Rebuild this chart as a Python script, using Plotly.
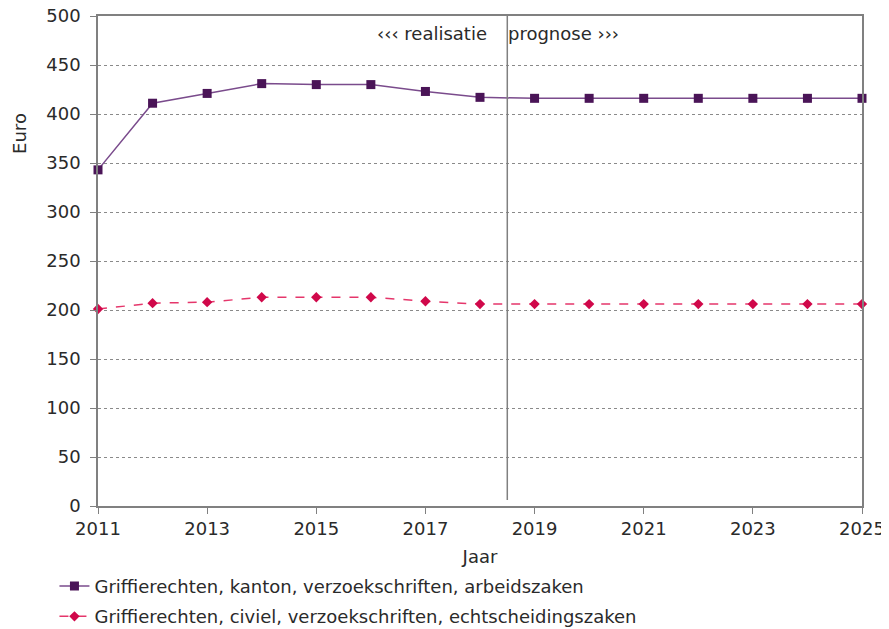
import plotly.graph_objects as go

years = list(range(2011, 2026))
kanton = [343, 411, 421, 431, 430, 430, 423, 417, 416, 416, 416, 416, 416, 416, 416]
civiel = [201, 207, 208, 213, 213, 213, 209, 206, 206, 206, 206, 206, 206, 206, 206]

name_kanton = "Griffierechten, kanton, verzoekschriften, arbeidszaken"
name_civiel = "Griffierechten, civiel, verzoekschriften, echtscheidingszaken"
split_year = 2018.5

font = "DejaVu Sans, Verdana, sans-serif"
text_color = "#2a2a2a"

fig = go.Figure()

fig.add_trace(
    go.Scatter(
        x=years,
        y=kanton,
        mode="lines+markers",
        name=name_kanton,
        legendgroup="kanton",
        cliponaxis=False,
        line=dict(color="#7a4b8c", width=1.5),
        marker=dict(symbol="square", size=9, color="#4a1457"),
    )
)

fig.add_trace(
    go.Scatter(
        x=years,
        y=civiel,
        mode="lines+markers",
        name=name_civiel,
        legendgroup="civiel",
        cliponaxis=False,
        line=dict(color="#e5366b", width=1.5, dash="dash"),
        marker=dict(symbol="diamond", size=8, color="#d0084a"),
    )
)

# split between realisation and forecast
fig.add_shape(
    type="line",
    x0=split_year, x1=split_year, y0=6, y1=500,
    xref="x", yref="y",
    line=dict(color="#808080", width=1.5),
)

fig.add_annotation(
    x=split_year, y=482, xref="x", yref="y",
    text="‹‹‹ realisatie", showarrow=False,
    xanchor="right", xshift=-18,
    font=dict(family=font, size=18, color=text_color),
)
fig.add_annotation(
    x=split_year, y=482, xref="x", yref="y",
    text="prognose ›››", showarrow=False,
    xanchor="left", xshift=-1,
    font=dict(family=font, size=18, color=text_color),
)

# y-axis title sits near the top, not centred
fig.add_annotation(
    x=-0.103, y=380, xref="paper", yref="y",
    xanchor="center", yanchor="middle",
    text="Euro", textangle=-90, showarrow=False,
    font=dict(family=font, size=18, color=text_color),
)

# the page body adds 8px around the figure, so the figure is sized to fit
fig.update_layout(
    width=881,
    height=621,
    margin=dict(l=90, r=27, t=8, b=123, autoexpand=False),
    plot_bgcolor="white",
    paper_bgcolor="white",
    font=dict(family=font, size=18, color=text_color),
    showlegend=True,
    legend=dict(
        x=-0.057, y=-0.126, xanchor="left", yanchor="top",
        font=dict(family=font, size=18, color=text_color),
        itemwidth=30, tracegroupgap=4,
    ),
    xaxis=dict(
        title=dict(text="Jaar", standoff=12, font=dict(size=18)),
        range=[2011, 2025],
        tickmode="array",
        tickvals=list(range(2011, 2026, 2)),
        ticks="outside", ticklen=6, tickcolor="#808080",
        ticklabeloverflow="allow",
        showgrid=False,
        showline=True, linecolor="#808080", linewidth=1.5,
        mirror=True,
        zeroline=False,
    ),
    yaxis=dict(
        range=[0, 500],
        dtick=50,
        ticks="outside", ticklen=6, tickcolor="#808080",
        ticklabelstandoff=6,
        ticklabeloverflow="allow",
        showgrid=True, gridcolor="#8a8a8a", griddash="dot", gridwidth=1,
        showline=True, linecolor="#808080", linewidth=1.5,
        mirror=True,
        zeroline=False,
    ),
)

fig.write_html("out.html")
